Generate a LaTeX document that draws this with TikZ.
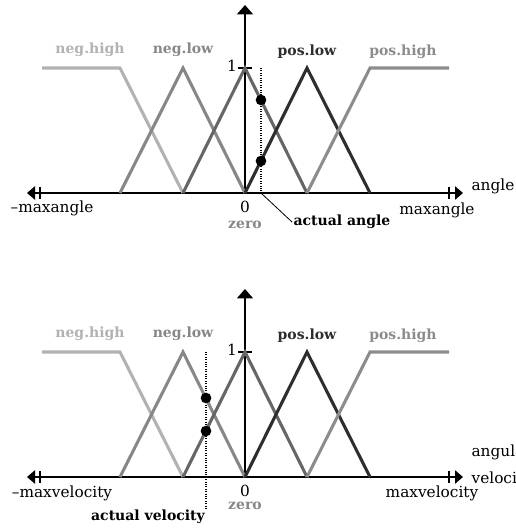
\documentclass[tikz,border=0pt]{standalone}
\usepackage{fontspec}
\setmainfont{DejaVu Serif}
\usetikzlibrary{positioning, arrows.meta}

\definecolor{nhcol}{gray}{0.70}
\definecolor{nlcol}{gray}{0.53}
\definecolor{zecol}{gray}{0.40}
\definecolor{plcol}{gray}{0.18}
\definecolor{phcol}{gray}{0.55}

\begin{document}
\begin{tikzpicture}[x=0.75pt, y=-0.75pt,
    axis/.style={line width=1.1pt, {Triangle[length=6pt, width=10pt]}-{Triangle[length=6pt, width=10pt]}},
    yaxis/.style={line width=1.1pt, -{Triangle[length=7pt, width=12pt]}},
    memb/.style={line width=2.3pt},
    setlbl/.style={font=\fontsize{10.5}{12}\selectfont\bfseries, inner sep=1pt},
    txt/.style={font=\fontsize{11.5}{13}\selectfont, inner sep=1pt},
    dot/.style={circle, fill=black, inner sep=0pt, minimum size=8pt},
    reading/.style={densely dotted, line width=0.8pt},
    tick/.style={line width=0.8pt}
]
\useasboundingbox (0,0) rectangle (516,529);

% angle
\coordinate (aL) at (27,193);
\coordinate (aR) at (463,193);
\coordinate (aO) at (245,193);
\coordinate (aT) at (245,5);
\draw[axis] (aL) -- (aR);
\draw[yaxis] (aO) -- (aT);
\draw[tick] (40,187) -- (40,199);
\draw[tick] (449,187) -- (449,199);
\draw[tick] (238,68) -- (252,68);

\draw[memb, nhcol] (42,68) -- (120,68) -- (183,193);
\draw[memb, nlcol] (120,193) -- (183,68) -- (245,193);
\draw[memb, zecol] (183,193) -- (245,68) -- (307,193);
\draw[memb, plcol] (245,193) -- (307,68) -- (370,193);
\draw[memb, phcol] (307,193) -- (370,68) -- (449,68);

\node[setlbl, nhcol] (anh) at (90,50) {neg.high};
\node[setlbl, nlcol] (anl) at (183,50) {neg.low};
\node[setlbl, plcol] (apl) at (307,52) {pos.low};
\node[setlbl, phcol] (aph) at (403,52) {pos.high};

\node[txt] (aone) at (232,66) {1};
\node[txt] (azero) at (245,207) {0};
\node[setlbl, nlcol] (azname) at (245,225) {zero};
\node[txt] (amin) at (52,208) {–maxangle};
\node[txt] (amax) at (437,210) {maxangle};
\node[txt] (alab) at (493,186) {angle};

\coordinate (arTop) at (261,68);
\coordinate (arFoot) at (261,193);
\draw[reading] (arTop) -- (arFoot);
\node[dot] (ad1) at (261,100) {};
\node[dot] (ad2) at (261,161) {};
\node[setlbl, black] (aact) at (342,222) {actual angle};
\draw[line width=0.6pt] (arFoot) -- (aact.west);

% angular velocity
\begin{scope}[shift={(0,284)}]
\coordinate (vL) at (27,193);
\coordinate (vR) at (463,193);
\coordinate (vO) at (245,193);
\coordinate (vT) at (245,5);
\draw[axis] (vL) -- (vR);
\draw[yaxis] (vO) -- (vT);
\draw[tick] (40,187) -- (40,199);
\draw[tick] (449,187) -- (449,199);
\draw[tick] (238,68) -- (252,68);

\draw[memb, nhcol] (42,68) -- (120,68) -- (183,193);
\draw[memb, nlcol] (120,193) -- (183,68) -- (245,193);
\draw[memb, zecol] (183,193) -- (245,68) -- (307,193);
\draw[memb, plcol] (245,193) -- (307,68) -- (370,193);
\draw[memb, phcol] (307,193) -- (370,68) -- (449,68);

\node[setlbl, nhcol] (vnh) at (90,50) {neg.high};
\node[setlbl, nlcol] (vnl) at (183,50) {neg.low};
\node[setlbl, plcol] (vpl) at (307,52) {pos.low};
\node[setlbl, phcol] (vph) at (403,52) {pos.high};

\node[txt] (vone) at (232,66) {1};
\node[txt] (vzero) at (245,207) {0};
\node[setlbl, nlcol] (vzname) at (245,222) {zero};
\node[txt] (vmin) at (62,209) {–maxvelocity};
\node[txt] (vmax) at (432,209) {maxvelocity};
\node[txt, font=\fontsize{11.5}{20}\selectfont, anchor=west, align=left] (vlab) at (470,182) {angular\\velocity};

\coordinate (vrTop) at (206,68);
\coordinate (vrFoot) at (206,226);
\draw[reading] (vrTop) -- (vrFoot);
\node[dot] (vd1) at (206,114) {};
\node[dot] (vd2) at (206,147) {};
\node[setlbl, black] (vact) at (148,233) {actual velocity};
\end{scope}

\end{tikzpicture}
\end{document}
